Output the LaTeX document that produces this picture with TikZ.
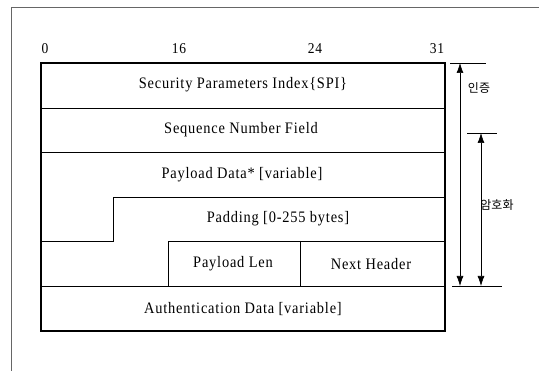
\documentclass[tikz,border=0pt]{standalone}
\usepackage{fontspec}
\setmainfont{Liberation Serif}[FakeStretch=0.9,LetterSpace=5]
\newfontfamily\krfont{Noto Sans CJK KR}
\usetikzlibrary{arrows.meta}

\begin{document}
\begin{tikzpicture}[x=1pt,y=-1pt,
    field/.style={font=\fontsize{16}{18}\selectfont},
    bitno/.style={font=\fontsize{15}{17}\selectfont},
    kr/.style={font=\krfont\fontsize{12}{14}\selectfont},
    span/.style={semithick,{Latex[length=10pt,width=7pt]}-{Latex[length=10pt,width=7pt]}}]
    \useasboundingbox (0,0) rectangle (539,371);
    % frame of the page
    \draw[black!60] (11,371) -- (11,7) -- (539,7);
    % bit numbers
    \node[bitno] (b0) at (45,49) {0};
    \node[bitno] (b16) at (179,49) {16};
    \node[bitno] (b24) at (315,49) {24};
    \node[bitno] (b31) at (437,49) {31};
    % packet box
    \draw[very thick] (41,63) rectangle (445,331);
    \draw (41,108) -- (445,108);
    \draw (41,152) -- (445,152);
    \draw (113,197) -- (445,197);
    \draw (41,241) -- (113,241) -- (113,197);
    \draw (168,286) -- (168,241) -- (445,241);
    \draw (300,241) -- (300,286);
    \draw (41,286) -- (445,286);
    % fields
    \node[field] (spi) at (243,85) {Security Parameters Index\{SPI\}};
    \node[field] (seq) at (241,130) {Sequence Number Field};
    \node[field] (data) at (242,175) {Payload Data* [variable]};
    \node[field] (pad) at (278,219) {Padding [0-255 bytes]};
    \node[field] (plen) at (233,264) {Payload Len};
    \node[field] (nxt) at (371,264) {Next Header};
    \node[field] (auth) at (243,309) {Authentication Data [variable]};
    % coverage
    \coordinate (authtop) at (460,63);
    \coordinate (authbot) at (460,286);
    \coordinate (enctop) at (481,133);
    \coordinate (encbot) at (481,286);
    \draw (450,63) -- (486,63);
    \draw (467,133) -- (497,133);
    \draw (452,286) -- (502,286);
    \draw[span] (authtop) -- (authbot);
    \draw[span] (enctop) -- (encbot);
    \node[kr] (lauth) at (479,88) {인증};
    \node[kr] (lenc) at (497,205) {암호화};
\end{tikzpicture}
\end{document}
